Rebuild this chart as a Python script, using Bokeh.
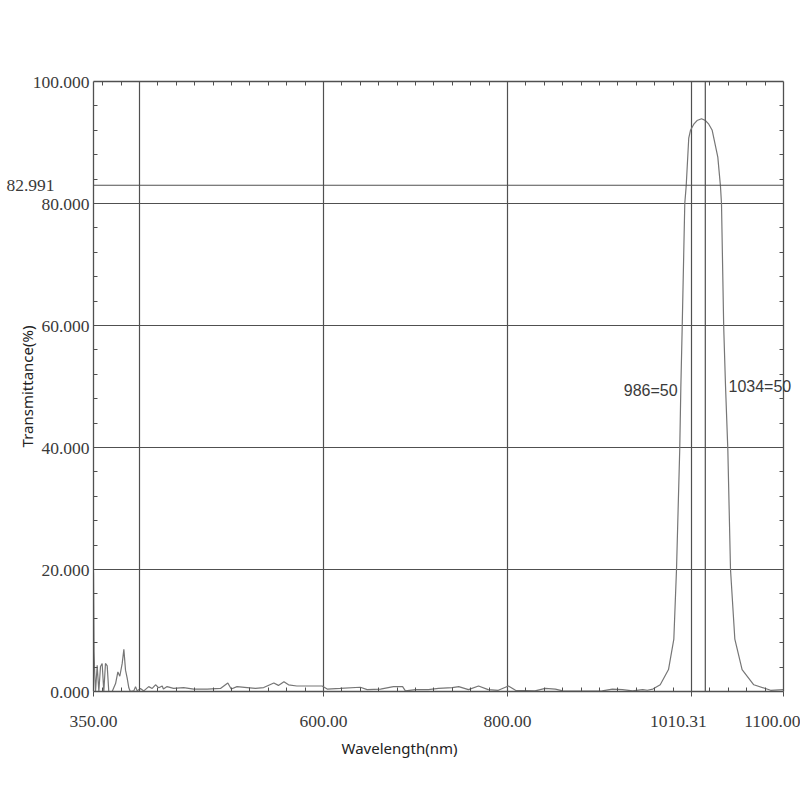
from bokeh.plotting import figure
from bokeh.models import FixedTicker, LinearAxis, Span, Label, Title, Range1d
from bokeh.embed import file_html
from bokeh.resources import INLINE

# ---- data ----
wavelength = [
    350.0, 350.6, 351.3, 352.2, 354.0, 355.8, 357.6, 359.4, 361.2, 363.0,
    364.9, 366.6, 370.3, 374.0, 376.5, 378.6, 381.2, 383.0, 384.8, 386.6,
    388.4, 390.0, 393.8, 395.7, 397.5, 401.0, 404.7, 410.0, 413.8, 417.4,
    421.0, 424.7, 426.0, 430.0, 437.0, 448.0, 459.0, 473.6, 488.0, 496.0,
    499.7, 506.0, 517.0, 526.0, 535.0, 546.0, 551.0, 557.0, 562.0, 571.0,
    582.0, 598.5, 604.0, 618.0, 640.0, 647.5, 662.0, 676.0, 686.0, 689.0,
    700.0, 714.0, 725.0, 740.0, 747.0, 757.6, 768.5, 779.0, 790.0, 801.0,
    808.7, 830.0, 841.0, 852.0, 860.0, 881.5, 903.0, 914.0, 925.0, 936.0,
    947.0, 952.0, 958.0, 966.0, 975.0, 980.8, 983.7, 987.2, 988.4, 989.9,
    992.7, 994.2, 997.0, 998.9, 1002.5, 1006.0, 1010.9, 1015.2, 1018.8, 1022.5,
    1028.6, 1031.5, 1032.6, 1035.0, 1037.0, 1039.5, 1042.4, 1047.1, 1055.0, 1067.7,
    1086.0, 1100.0,
]
transmittance = [
    19.5, 6.5, 3.0, 0.0, 4.3, 0.0, 4.1, 4.6, 0.0, 4.6,
    4.2, 0.0, 0.0, 1.3, 3.2, 2.5, 4.6, 6.9, 3.5, 2.2,
    0.6, 0.0, 0.1, 0.8, 0.1, 0.5, 0.1, 0.8, 0.5, 1.1,
    0.6, 0.9, 0.4, 0.8, 0.5, 0.65, 0.4, 0.4, 0.5, 1.4,
    0.4, 0.8, 0.65, 0.5, 0.65, 1.4, 1.0, 1.6, 1.1, 0.9,
    0.9, 0.9, 0.4, 0.5, 0.7, 0.3, 0.4, 0.8, 0.8, 0.1,
    0.3, 0.3, 0.5, 0.65, 0.8, 0.3, 0.9, 0.3, 0.2, 0.9,
    0.2, 0.1, 0.5, 0.4, 0.1, 0.05, 0.1, 0.4, 0.3, 0.1,
    0.3, 0.2, 0.4, 1.1, 3.6, 8.6, 20.0, 39.6, 49.7, 59.8,
    80.0, 82.8, 90.7, 92.0, 93.0, 93.6, 93.9, 93.6, 93.0, 92.0,
    87.6, 82.8, 80.0, 59.8, 50.0, 39.6, 20.0, 8.6, 3.6, 1.1,
    0.2, 0.3,
]

x_ticks = [350, 600, 800, 1000, 1100]
x_labels = ["350.00", "600.00", "800.00", "1010.31", "1100.00"]
x_grid = [400, 600, 800, 1000]
y_ticks = [0, 20, 40, 60, 80, 100]
y_labels = ["0.000", "20.000", "40.000", "60.000", "80.000", "100.000"]
y_grid = [20, 40, 60, 80]

level_line = 82.991
level_text = "82.991"
marker_wavelength = 1015
half_left = (986, 50, "986=50")
half_right = (1034, 50, "1034=50")

x_title = "Wavelength(nm)"
y_title = "Transmittance(%)"

x_minor = list(range(360, 1100, 20))
y_minor = [v for v in range(4, 100, 4) if v % 20]

# ---- styles ----
LINE = "#505050"
TXT = "#3a3a3a"
TICK_FONT = "Liberation Serif"
TICK_SIZE = "17.5px"
NBSP = "\u00a0"

p = figure(width=800, height=800, x_range=Range1d(350, 1100), y_range=Range1d(0, 100),
           output_backend="svg", toolbar_location=None,
           min_border_left=93, min_border_right=17, min_border_top=81, min_border_bottom=109)
p.outline_line_color = None
p.background_fill_color = "white"
p.border_fill_color = "white"

# grids
p.xgrid.ticker = FixedTicker(ticks=x_grid)
p.ygrid.ticker = FixedTicker(ticks=y_grid)
for g in (p.xgrid[0], p.ygrid[0]):
    g.grid_line_color = LINE
    g.grid_line_width = 1.2

p.add_layout(Span(location=level_line, dimension="width", line_color=LINE, line_width=1.2))
p.add_layout(Span(location=marker_wavelength, dimension="height", line_color=LINE, line_width=1.2))

p.line(wavelength, transmittance, line_color="#767676", line_width=1.2)


def style_axis(ax):
    ax.axis_line_color = LINE
    ax.axis_line_width = 1.3
    ax.major_tick_line_color = LINE
    ax.minor_tick_line_color = LINE
    ax.minor_tick_in = 4
    ax.minor_tick_out = 0
    ax.major_tick_in = 0
    ax.major_label_text_font = TICK_FONT
    ax.major_label_text_font_size = TICK_SIZE
    ax.major_label_text_color = TXT


xa = p.xaxis[0]
style_axis(xa)
xa.ticker = FixedTicker(ticks=x_ticks, minor_ticks=x_minor)
x_over = {t: lab for t, lab in zip(x_ticks, x_labels)}
x_over[x_ticks[3]] = x_labels[3] + NBSP * 6   # reference label sits left of its tick
xa.major_label_overrides = x_over
xa.major_tick_out = 5
xa.major_label_standoff = 14

ya = p.yaxis[0]
style_axis(ya)
ya.ticker = FixedTicker(ticks=y_ticks + [level_line], minor_ticks=y_minor)
y_over = {t: lab for t, lab in zip(y_ticks, y_labels)}
y_over[level_line] = level_text + NBSP * 8
ya.major_label_overrides = y_over
ya.major_tick_out = 0
ya.major_label_standoff = 4
ya.axis_label = y_title
ya.axis_label_text_font = "Noto Sans"
ya.axis_label_text_font_size = "15px"
ya.axis_label_text_font_style = "normal"
ya.axis_label_text_color = "#222222"
ya.axis_label_standoff = -34

top = LinearAxis(ticker=FixedTicker(ticks=[], minor_ticks=x_minor))
style_axis(top)
top.major_tick_out = 0
top.major_label_text_font_size = "0px"
top.major_label_standoff = 0
p.add_layout(top, "above")

# right axis: minor ticks, and the 1034=50 marker text drawn across the frame edge
right = LinearAxis(ticker=FixedTicker(ticks=[half_right[1]], minor_ticks=y_minor))
style_axis(right)
right.major_tick_out = 0
right.major_label_overrides = {half_right[1]: half_right[2]}
right.major_label_text_font = "Liberation Sans"
right.major_label_text_font_size = "16px"
right.major_label_standoff = -55
if hasattr(right, "major_label_background_fill_color"):
    right.major_label_background_fill_color = "white"
p.add_layout(right, "right")

p.add_layout(Title(text=x_title, align="left", offset=248, vertical_align="top", standoff=9,
                   text_font="Noto Sans", text_font_size="15px", text_font_style="normal",
                   text_color="#222222"), "below")

p.add_layout(Label(x=half_left[0], y=half_left[1], x_offset=-1, y_offset=-4, text=half_left[2],
                   text_align="right", text_baseline="middle",
                   text_font="Liberation Sans", text_font_size="16px", text_color=TXT))

open("out.html", "w").write(file_html(p, INLINE))
